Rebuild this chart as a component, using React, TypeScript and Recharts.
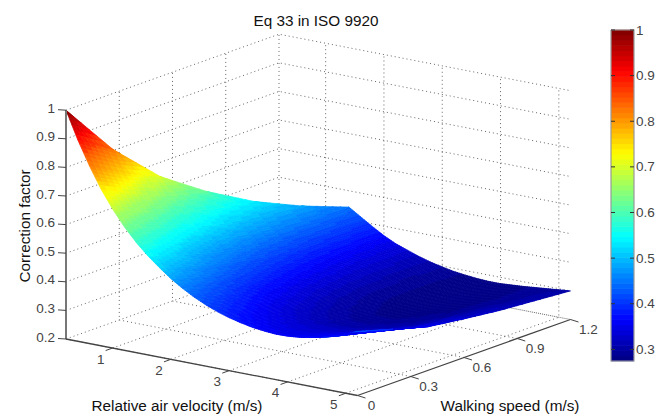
import React from "react";
import { ScatterChart, Scatter, XAxis, YAxis } from "recharts";

const title = "Eq 33 in ISO 9920";
const xTitle = "Relative air velocity (m/s)";
const yTitle = "Walking speed (m/s)";
const zTitle = "Correction factor";

const vTicks = [1, 2, 3, 4, 5];
const wTicks = [0, 0.3, 0.6, 0.9, 1.2];
const zTicks = [0.2, 0.3, 0.4, 0.5, 0.6, 0.7, 0.8, 0.9, 1];
const barTicks = [0.3, 0.4, 0.5, 0.6, 0.7, 0.8, 0.9, 1];

const airVelocity = [0.2, 0.4, 0.6, 0.8, 1.0, 1.2, 1.4, 1.6, 1.8, 2.0, 2.2, 2.4, 2.6, 2.8, 3.0, 3.2, 3.4, 3.6, 3.8, 4.0, 4.2, 4.4, 4.6, 4.8, 5.0, 5.2];
const walkingSpeed = [0, 0.2, 0.4, 0.6, 0.8, 1.0, 1.2];
const _ = null;
const atWalk00 = [1.0, 0.905, 0.822, 0.748, 0.686, 0.632, 0.586, 0.547, 0.513, 0.482, 0.456, 0.433, 0.414, 0.398, 0.385, 0.375, 0.367, 0.362, 0.359, 0.36, 0.364, 0.371, 0.38, 0.391, 0.407, 0.424];
const atWalk02 = [_, 0.826, 0.752, 0.687, 0.631, 0.585, 0.542, 0.506, 0.475, 0.446, 0.422, 0.401, 0.383, 0.368, 0.356, 0.347, 0.339, 0.335, 0.332, 0.333, 0.337, 0.343, 0.35, 0.361, 0.373, 0.388];
const atWalk04 = [_, _, 0.695, 0.636, 0.587, 0.544, 0.504, 0.47, 0.441, 0.415, 0.392, 0.372, 0.356, 0.34, 0.327, 0.318, 0.311, 0.305, 0.303, 0.304, 0.307, 0.312, 0.319, 0.332, 0.342, 0.352];
const atWalk06 = [_, _, _, 0.606, 0.557, 0.515, 0.478, 0.446, 0.418, 0.393, 0.372, 0.353, 0.335, 0.32, 0.308, 0.299, 0.292, 0.287, 0.285, 0.285, 0.289, 0.294, 0.301, 0.315, 0.325, 0.335];
const atWalk08 = [_, _, _, _, 0.535, 0.496, 0.46, 0.429, 0.403, 0.378, 0.358, 0.34, 0.325, 0.31, 0.298, 0.289, 0.283, 0.279, 0.277, 0.277, 0.281, 0.285, 0.293, 0.304, 0.313, 0.32];
const atWalk10 = [_, _, _, _, _, 0.483, 0.449, 0.421, 0.395, 0.371, 0.351, 0.333, 0.319, 0.306, 0.296, 0.289, 0.283, 0.279, 0.276, 0.277, 0.28, 0.284, 0.287, 0.295, 0.303, 0.31];
const atWalk12 = [_, _, _, _, _, _, 0.443, 0.417, 0.391, 0.367, 0.347, 0.332, 0.318, 0.306, 0.297, 0.289, 0.284, 0.28, 0.278, 0.278, 0.281, 0.284, 0.288, 0.292, 0.296, 0.3];
const factor = [atWalk00, atWalk02, atWalk04, atWalk06, atWalk08, atWalk10, atWalk12];

const V0 = 0.2, V1 = 5.2, W1 = 1.2, Z0 = 0.2, Z1 = 1;
const CMIN = 0.2745, CMAX = 1, LEVELS = 64;

const proj = (v: number, w: number, z: number) => ({
  sx: 66 + 58.3 * (v - V0) + 177.5 * w,
  sy: 339 + 11.3 * (v - V0) - 63.33 * w - 286 * (z - Z0),
});

function jet(t: number) {
  const c = (x: number) => Math.round(255 * Math.max(0, Math.min(1, x)));
  return `rgb(${c(1.5 - Math.abs(4 * t - 3))},${c(1.5 - Math.abs(4 * t - 2))},${c(1.5 - Math.abs(4 * t - 1))})`;
}
function colorOf(z: number) {
  const l = Math.min(LEVELS - 1, Math.max(0, Math.floor(((z - CMIN) / (CMAX - CMIN)) * LEVELS)));
  return jet((l + 0.5) / LEVELS);
}

type Corner = { v: number; w: number; z: number };
const cells: any[] = [];
for (let j = walkingSpeed.length - 2; j >= 0; j--) {
  for (let i = airVelocity.length - 2; i >= 0; i--) {
    const at = (ii: number, jj: number): Corner | null => {
      const z = factor[jj][ii];
      return z == null ? null : { v: airVelocity[ii], w: walkingSpeed[jj], z };
    };
    const a = at(i, j), b = at(i + 1, j), c = at(i + 1, j + 1), d = at(i, j + 1);
    if (!a || !b || !c) continue;
    const corners = [a, b, c, d || a];
    const m = proj((a.v + b.v) / 2, (a.w + c.w) / 2, (a.z + c.z) / 2);
    cells.push({ ...m, corners });
  }
}

const N = 6;
function SurfaceCell(props: any) {
  const { cx, cy, payload } = props;
  if (cx == null) return <g />;
  const [a, b, c, d] = payload.corners as Corner[];
  const pt = (s: number, t: number) => {
    const k = [(1 - s) * (1 - t), s * (1 - t), s * t, (1 - s) * t];
    const mix = (f: "v" | "w" | "z") => k[0] * a[f] + k[1] * b[f] + k[2] * c[f] + k[3] * d[f];
    const z = mix("z");
    const p = proj(mix("v"), mix("w"), z);
    return { x: p.sx - payload.sx + cx, y: p.sy - payload.sy + cy, z };
  };
  const polys = [];
  for (let i = 0; i < N; i++) {
    for (let j = 0; j < N; j++) {
      const p = [pt(i / N, j / N), pt((i + 1) / N, j / N), pt((i + 1) / N, (j + 1) / N), pt(i / N, (j + 1) / N)];
      const col = colorOf((p[0].z + p[1].z + p[2].z + p[3].z) / 4);
      polys.push(
        <polygon
          key={`${i}-${j}`}
          points={p.map((q) => `${q.x.toFixed(2)},${q.y.toFixed(2)}`).join(" ")}
          fill={col}
          stroke={col}
          strokeWidth={0.7}
        />
      );
    }
  }
  return <g>{polys}</g>;
}

const Nothing = () => <g />;

function TextMark(props: any) {
  const { cx, cy, payload } = props;
  if (cx == null) return <g />;
  return (
    <text
      x={cx + (payload.dx || 0)}
      y={cy + (payload.dy || 0)}
      textAnchor={payload.anchor || "middle"}
      dominantBaseline="central"
      fontFamily="Liberation Sans, Arial, sans-serif"
      fontSize={payload.size || 13.5}
      fill={payload.fill || "#444"}
      transform={payload.rotate ? `rotate(${payload.rotate} ${cx} ${cy})` : undefined}
    >
      {payload.label}
    </text>
  );
}

function BarLevel(props: any) {
  const { cx, cy, payload } = props;
  if (cx == null) return <g />;
  return <rect x={cx - 11.5} y={cy - payload.h / 2 - 0.3} width={23} height={payload.h + 0.6} fill={payload.fill} />;
}

const gridLines: { sx: number; sy: number }[][] = [];
for (const z of zTicks) {
  gridLines.push([proj(V0, 0, z), proj(V0, W1, z), proj(V1, W1, z)]);
}
for (const v of vTicks) {
  gridLines.push([proj(v, 0, Z0), proj(v, W1, Z0), proj(v, W1, Z1)]);
}
for (const w of wTicks) {
  gridLines.push([proj(V1, w, Z0), proj(V0, w, Z0), proj(V0, w, Z1)]);
}

const shift = (p: { sx: number; sy: number }, dx: number, dy: number) => ({ sx: p.sx + dx, sy: p.sy + dy });

const zTickMarks = zTicks.map((z) => [proj(V0, 0, z), shift(proj(V0, 0, z), -8, -0.5)]);
const vTickMarks = vTicks.map((v) => [proj(v, 0, Z0), shift(proj(v, 0, Z0), -7, 2.5)]);
const wTickMarks = wTicks.map((w) => [proj(V1, w, Z0), shift(proj(V1, w, Z0), 8, 2.5)]);

const labels = [
  ...zTicks.map((z) => ({ ...proj(V0, 0, z), label: String(z), anchor: "end", dx: -11, dy: -2 })),
  ...vTicks.map((v) => ({ ...proj(v, 0, Z0), label: String(v), dx: -12, dy: 11 })),
  ...wTicks.map((w) => ({ ...proj(V1, w, Z0), label: String(w), dx: w === 0 ? 14 : 18, dy: 9.5 })),
  { sx: 316, sy: 20, label: title, fill: "#111", size: 15.3 },
  { sx: 177, sy: 405, label: xTitle, fill: "#111", size: 15.3 },
  { sx: 510, sy: 405, label: yTitle, fill: "#111", size: 15.3 },
  { sx: 24, sy: 226, label: zTitle, fill: "#111", size: 15.3, rotate: -90 },
];

const BAR_X = 622.5, BAR_TOP = 30, BAR_BOTTOM = 361;
const barY = (z: number) => BAR_TOP + ((CMAX - z) / (CMAX - CMIN)) * (BAR_BOTTOM - BAR_TOP);
const barLevels = Array.from({ length: LEVELS }, (_x, l) => {
  const z = CMIN + ((l + 0.5) / LEVELS) * (CMAX - CMIN);
  return { sx: BAR_X, sy: barY(z), h: (BAR_BOTTOM - BAR_TOP) / LEVELS, fill: jet((l + 0.5) / LEVELS) };
});
const barFrame = [
  { sx: 611, sy: BAR_TOP }, { sx: 634, sy: BAR_TOP }, { sx: 634, sy: BAR_BOTTOM }, { sx: 611, sy: BAR_BOTTOM }, { sx: 611, sy: BAR_TOP },
];
const barTickMarks = barTicks.flatMap((z) => [
  [{ sx: 611, sy: barY(z) }, { sx: 615, sy: barY(z) }],
  [{ sx: 630, sy: barY(z) }, { sx: 634, sy: barY(z) }],
]);
const barLabels = barTicks.map((z) => ({ sx: 636, sy: barY(z), label: String(z), anchor: "start", size: 13.5 }));

const lineSeries = (key: string, data: any[], line: any) => (
  <Scatter key={key} data={data} line={line} lineType="joint" shape={Nothing} isAnimationActive={false} />
);

export default function App() {
  return (
    <div style={{ position: "absolute", left: 0, top: 0, width: 667, height: 414, background: "#fff" }}>
      <ScatterChart width={667} height={414} margin={{ top: 0, right: 0, bottom: 0, left: 0 }}>
        <XAxis type="number" dataKey="sx" domain={[0, 667]} hide allowDataOverflow />
        <YAxis type="number" dataKey="sy" domain={[0, 414]} reversed hide allowDataOverflow />
        {gridLines.map((g, i) => lineSeries(`g${i}`, g, { stroke: "#666", strokeWidth: 1, strokeDasharray: "1 3" }))}
        <Scatter data={cells} shape={SurfaceCell} isAnimationActive={false} />
        {lineSeries("zaxis", [proj(V0, 0, Z0), proj(V0, 0, Z1)], { stroke: "#777", strokeWidth: 2 })}
        {lineSeries("vaxis", [proj(V0, 0, Z0), proj(V1, 0, Z0)], { stroke: "#444", strokeWidth: 1.3 })}
        {lineSeries("waxis", [proj(V1, 0, Z0), proj(V1, W1, Z0)], { stroke: "#444", strokeWidth: 1.3 })}
        {[...zTickMarks, ...vTickMarks, ...wTickMarks].map((t, i) => lineSeries(`t${i}`, t, { stroke: "#444", strokeWidth: 1 }))}
        <Scatter data={barLevels} shape={BarLevel} isAnimationActive={false} />
        {lineSeries("frame", barFrame, { stroke: "#999", strokeWidth: 1.2 })}
        {barTickMarks.map((t, i) => lineSeries(`b${i}`, t, { stroke: "#333", strokeWidth: 1 }))}
        <Scatter data={[...labels, ...barLabels]} shape={TextMark} isAnimationActive={false} />
      </ScatterChart>
    </div>
  );
}
